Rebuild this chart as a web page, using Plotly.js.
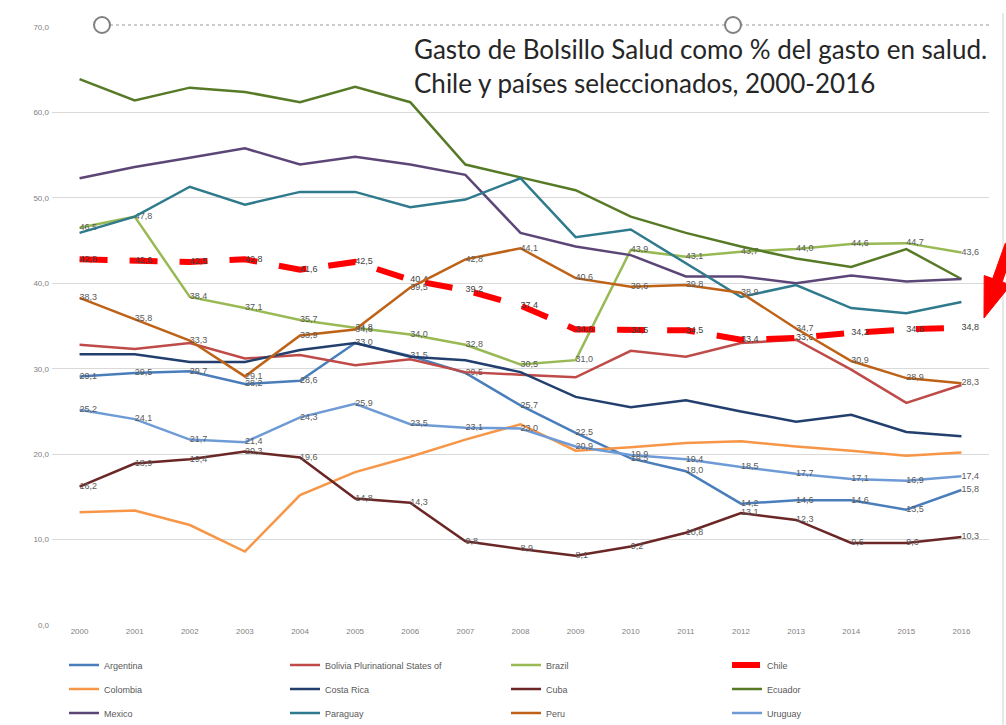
<!DOCTYPE html>
<html>
<head>
<meta charset="utf-8">
<script src="https://cdn.plot.ly/plotly-3.0.1.min.js"></script>
<style>html,body{margin:0;padding:0;background:#fff;}#chart{width:1006px;height:725px;}</style>
</head>
<body>
<div id="chart"></div>
<script>
// ---- data ----
const years = ['2000','2001','2002','2003','2004','2005','2006','2007','2008','2009','2010','2011','2012','2013','2014','2015','2016'];
const argentina = [29.1, 29.5, 29.7, 28.2, 28.6, 33.0, 31.5, 29.5, 25.7, 22.5, 19.5, 18.0, 14.2, 14.6, 14.6, 13.5, 15.8];
const bolivia   = [32.8, 32.3, 33.0, 31.2, 31.6, 30.4, 31.1, 29.6, 29.3, 29.0, 32.1, 31.4, 33.0, 33.4, 29.9, 26.0, 28.1];
const brazil    = [46.5, 47.8, 38.4, 37.1, 35.7, 34.8, 34.0, 32.8, 30.5, 31.0, 43.9, 43.1, 43.7, 44.0, 44.6, 44.7, 43.6];
const chile     = [42.8, 42.6, 42.5, 42.8, 41.6, 42.5, 40.4, 39.2, 37.4, 34.6, 34.5, 34.5, 33.4, 33.6, 34.2, 34.6, 34.8];
const colombia  = [13.2, 13.4, 11.7, 8.6, 15.2, 17.9, 19.7, 21.7, 23.5, 20.4, 20.8, 21.3, 21.5, 20.9, 20.4, 19.8, 20.2];
const costaRica = [31.7, 31.7, 30.8, 30.8, 32.2, 33.0, 31.4, 31.0, 29.6, 26.7, 25.5, 26.3, 25.0, 23.8, 24.6, 22.6, 22.1];
const cuba      = [16.2, 18.9, 19.4, 20.3, 19.6, 14.8, 14.3, 9.8, 8.9, 8.1, 9.2, 10.8, 13.1, 12.3, 9.6, 9.6, 10.3];
const ecuador   = [63.9, 61.4, 62.9, 62.4, 61.2, 63.0, 61.2, 53.9, 52.4, 50.9, 47.8, 45.9, 44.3, 42.9, 41.9, 44.0, 40.5];
const mexico    = [52.3, 53.6, 54.7, 55.8, 53.9, 54.8, 53.9, 52.7, 45.9, 44.3, 43.3, 40.8, 40.8, 40.0, 40.9, 40.2, 40.5];
const paraguay  = [45.9, 47.8, 51.3, 49.2, 50.7, 50.7, 48.9, 49.8, 52.3, 45.4, 46.3, 42.4, 38.4, 39.8, 37.1, 36.5, 37.8];
const peru      = [38.3, 35.8, 33.3, 29.1, 33.9, 34.6, 39.5, 42.8, 44.1, 40.6, 39.6, 39.8, 38.9, 34.7, 30.9, 28.9, 28.3];
const uruguay   = [25.2, 24.1, 21.7, 21.4, 24.3, 25.9, 23.5, 23.1, 23.0, 20.9, 19.9, 19.4, 18.5, 17.7, 17.1, 16.9, 17.4];
const yTicks = [0, 10, 20, 30, 40, 50, 60, 70];
const titleText = 'Gasto de Bolsillo Salud como % del gasto en salud.<br>Chile y países seleccionados, 2000-2016';

// ---- build ----
const fmt = v => v.toFixed(1).replace('.', ',');
function series(name, y, color, legend, opts) {
  opts = opts || {};
  const t = {
    type: 'scatter', x: years, y: y, name: name, legend: legend,
    mode: opts.labels ? 'lines+text' : 'lines',
    line: {color: color, width: opts.width || 2.5, dash: opts.dash || 'solid'},
    hoverinfo: 'x+y+name'
  };
  if (opts.labels) {
    t.text = y.map(fmt);
    t.textposition = 'middle right';
    t.textfont = {family: 'Liberation Sans, Arial, sans-serif', size: 9, color: opts.labelColor || '#595959'};
  }
  return t;
}
const traces = [
  series('Argentina', argentina, '#4A7EBB', 'legend', {labels: true}),
  series('Bolivia Plurinational States of', bolivia, '#BE4B48', 'legend'),
  series('Brazil', brazil, '#98B954', 'legend', {labels: true}),
  series('Chile', chile, '#FF0000', 'legend', {labels: true, width: 6, dash: '28px,22px', labelColor: '#404040'}),
  series('Colombia', colombia, '#F79646', 'legend2'),
  series('Costa Rica', costaRica, '#233F6E', 'legend2'),
  series('Cuba', cuba, '#6B2626', 'legend2', {labels: true}),
  series('Ecuador', ecuador, '#577A27', 'legend2'),
  series('Mexico', mexico, '#5C4677', 'legend3'),
  series('Paraguay', paraguay, '#2F7A8C', 'legend3'),
  series('Peru', peru, '#BE6217', 'legend3', {labels: true}),
  series('Uruguay', uruguay, '#6E9BD6', 'legend3', {labels: true})
];

// pixel helpers for decorations (plot area: x 52..989, y 27..625)
const PX0 = 52, PX1 = 989, PY0 = 27, PY1 = 625;
const px = x => (x - PX0) / (PX1 - PX0);
const py = y => (PY1 - y) / (PY1 - PY0);

const arrowPts = [[984,318],[984.2,275.6],[992.7,278.6],[1005.3,243.3],[1014.7,246.7],[1002.1,282],[1010.6,285]];
const arrowPath = 'M ' + arrowPts.map(p => px(p[0]).toFixed(5) + ' ' + py(p[1]).toFixed(5)).join(' L ') + ' Z';

const legendBase = {
  orientation: 'h', xanchor: 'left', yanchor: 'middle', x: px(64),
  entrywidth: 176, entrywidthmode: 'pixels', itemwidth: 30,
  font: {family: 'Liberation Sans, Arial, sans-serif', size: 9, color: '#595959'},
  bgcolor: 'rgba(0,0,0,0)', borderwidth: 0, traceorder: 'normal'
};

const layout = {
  width: 1006, height: 725,
  margin: {l: PX0, r: 1006 - PX1, t: PY0, b: 725 - PY1, autoexpand: false},
  paper_bgcolor: '#ffffff', plot_bgcolor: '#ffffff',
  separators: ',.',
  font: {family: 'Liberation Sans, Arial, sans-serif', color: '#595959'},
  xaxis: {
    type: 'category', range: [-0.5, 16.5], showgrid: false, zeroline: false,
    showline: false, ticks: '', tickfont: {size: 8, color: '#7f7f7f'}, fixedrange: true
  },
  yaxis: {
    range: [0, 70], tickvals: yTicks, tickformat: '.1f', showgrid: true,
    gridcolor: '#d9d9d9', gridwidth: 1, zeroline: false, showline: false,
    tickfont: {size: 8, color: '#7f7f7f'}, ticklabelstandoff: 2, fixedrange: true
  },
  showlegend: true,
  legend: Object.assign({}, legendBase, {y: py(665)}),
  legend2: Object.assign({}, legendBase, {y: py(689)}),
  legend3: Object.assign({}, legendBase, {y: py(713)}),
  annotations: [{
    xref: 'paper', yref: 'paper', x: px(412), y: py(31), xanchor: 'left', yanchor: 'top',
    align: 'left', showarrow: false, text: titleText,
    font: {family: 'Lato, Open Sans, sans-serif', size: 26, color: '#262626'}
  }],
  shapes: [
    {type: 'line', xref: 'paper', yref: 'paper', x0: px(110), x1: px(992), y0: py(25), y1: py(25),
     line: {color: '#9a9a9a', width: 1.2, dash: 'dot'}},
    {type: 'circle', xref: 'paper', yref: 'paper', x0: px(94), x1: px(110), y0: py(17), y1: py(33),
     line: {color: '#808080', width: 2}, fillcolor: '#ffffff'},
    {type: 'circle', xref: 'paper', yref: 'paper', x0: px(725), x1: px(741), y0: py(17), y1: py(33),
     line: {color: '#808080', width: 2}, fillcolor: '#ffffff'},
    {type: 'line', xref: 'paper', yref: 'paper', x0: px(1003), x1: px(1003), y0: py(13), y1: py(725),
     line: {color: '#d0d0d0', width: 1}},
    {type: 'path', xref: 'paper', yref: 'paper', path: arrowPath, fillcolor: '#FF0000',
     line: {color: '#FF0000', width: 1}}
  ]
};

Plotly.newPlot('chart', traces, layout, {displayModeBar: false, staticPlot: true});
</script>
</body>
</html>
